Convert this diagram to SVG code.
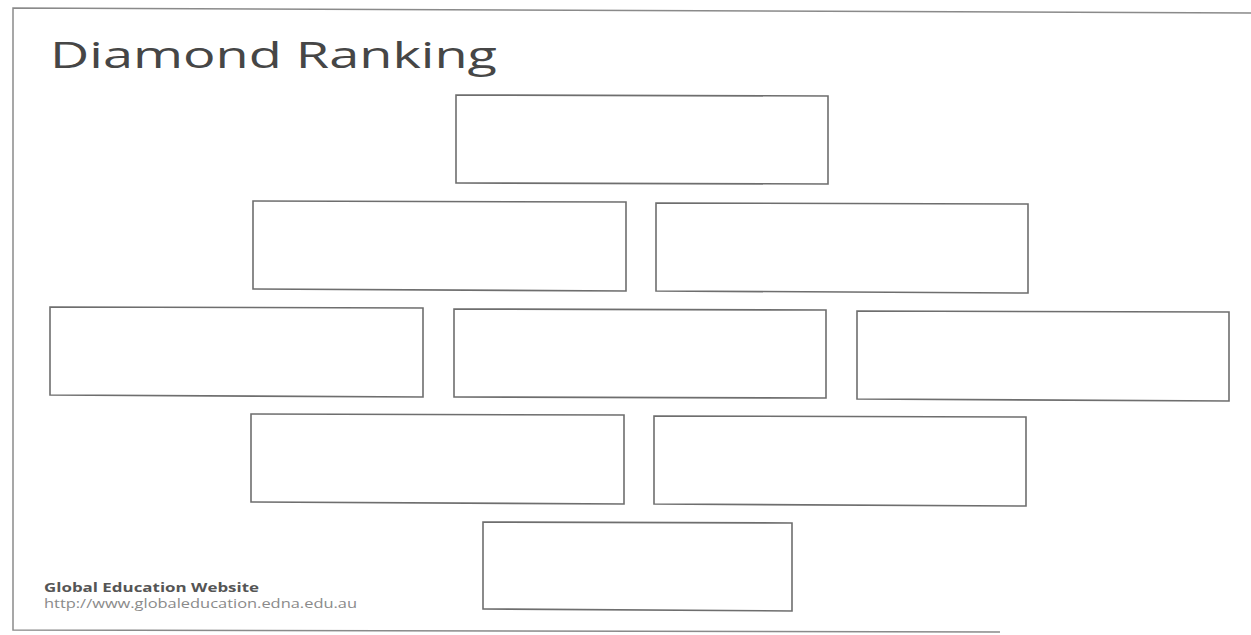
<svg xmlns="http://www.w3.org/2000/svg" width="1251" height="635" viewBox="0 0 1251 635">
<style>
.page{fill:none;stroke:#8a8a8a;stroke-width:1.5}
.box{fill:#ffffff;stroke:#6e6e6e;stroke-width:1.6}
.title{font-family:"Open Sans","Noto Sans",sans-serif;font-size:37px;fill:#464646}
.org{font-family:"Open Sans","Noto Sans",sans-serif;font-size:12.5px;font-weight:bold;fill:#555555}
.url{font-family:"Open Sans","Noto Sans",sans-serif;font-size:12px;fill:#8a8a8a}
</style>
<rect width="1251" height="635" fill="#ffffff"/>
<g id="page">
<polyline class="page" points="1251,13 13,8 13,630 1000,632"/>
</g>
<g id="title">
<text class="title" x="50" y="68" textLength="447" lengthAdjust="spacingAndGlyphs">Diamond Ranking</text>
</g>
<g id="rank1"><polygon class="box" points="456,95 828,96 828,184 456,183"/></g>
<g id="rank2a"><polygon class="box" points="253,201 626,202 626,291 253,289"/></g>
<g id="rank2b"><polygon class="box" points="656,203 1028,204 1028,293 656,291"/></g>
<g id="rank3a"><polygon class="box" points="50,307 423,308 423,397 50,395"/></g>
<g id="rank3b"><polygon class="box" points="454,309 826,310 826,398 454,397"/></g>
<g id="rank3c"><polygon class="box" points="857,311 1229,312 1229,401 857,399"/></g>
<g id="rank4a"><polygon class="box" points="251,414 624,415 624,504 251,502"/></g>
<g id="rank4b"><polygon class="box" points="654,416 1026,417 1026,506 654,504"/></g>
<g id="rank5"><polygon class="box" points="483,522 792,523 792,611 483,609"/></g>
<g id="connectors"></g>
<g id="footer">
<text class="org" x="44" y="592" textLength="215" lengthAdjust="spacingAndGlyphs">Global Education Website</text>
<text class="url" x="44" y="608" textLength="313" lengthAdjust="spacingAndGlyphs">http://www.globaleducation.edna.edu.au</text>
</g>
</svg>
